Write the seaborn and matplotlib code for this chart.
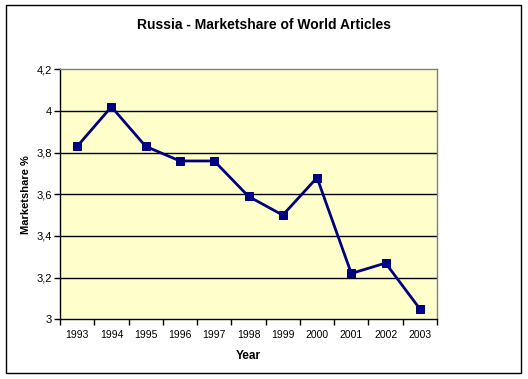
import numpy as np
import pandas as pd
import matplotlib
matplotlib.use("Agg")
import matplotlib.pyplot as plt
import seaborn as sns
from matplotlib.patches import Rectangle

years = ['1993', '1994', '1995', '1996', '1997', '1998', '1999', '2000', '2001', '2002', '2003']
share = [3.83, 4.02, 3.83, 3.76, 3.76, 3.59, 3.50, 3.68, 3.22, 3.27, 3.05]
yticks = [3.0, 3.2, 3.4, 3.6, 3.8, 4.0, 4.2]
ylabels = ['3', '3,2', '3,4', '3,6', '3,8', '4', '4,2']

df = pd.DataFrame({'pos': np.arange(len(years)), 'share': share})

sns.set_style('white', {'text.color': 'black', 'axes.labelcolor': 'black',
                        'xtick.color': 'black', 'ytick.color': 'black',
                        'xtick.bottom': True, 'ytick.left': True})
plt.rcParams['font.family'] = ['Liberation Sans', 'DejaVu Sans']

fig = plt.figure(figsize=(5.28, 3.79), dpi=100)
ax = fig.add_axes([60 / 528, 1 - 319.3 / 379, 377 / 528, 250 / 379])
ax.set_facecolor('#FFFFCC')

# gridlines
for v in yticks[1:-1]:
    ax.axhline(v, color='black', lw=1, zorder=1)

sns.lineplot(data=df, x='pos', y='share', ax=ax, color='#000080', lw=2,
             marker='s', markersize=6, markeredgecolor='#000080', zorder=3)

ax.set_xlim(-0.5, len(years) - 0.5)
ax.set_ylim(3.0, 4.2)
ax.set_yticks(yticks)
ax.set_yticklabels(ylabels, fontsize=8)
ax.set_xticks(df['pos'])
ax.set_xticklabels(years, fontsize=7.5)
ax.set_xticks(np.arange(len(years) + 1) - 0.5, minor=True)
ax.tick_params(axis='x', which='major', bottom=False, length=0, pad=8)
ax.tick_params(axis='x', which='minor', bottom=True, length=4, color='black', width=1, direction='out')
ax.tick_params(axis='y', left=True, length=4, color='black', width=1, direction='out', pad=2)

for side in ['left', 'bottom']:
    ax.spines[side].set_color('black')
    ax.spines[side].set_linewidth(1)
for side in ['top', 'right']:
    ax.spines[side].set_color('#808080')
    ax.spines[side].set_linewidth(1)

ax.set_xlabel('Year', fontsize=8.5, fontweight='bold', labelpad=7)
ax.set_ylabel('Marketshare %', fontsize=8, fontweight='bold')
ax.yaxis.set_label_coords(-29 / 377, 0.5)

fig.text(0.5, 1 - 25 / 379, 'Russia - Marketshare of World Articles', ha='center', va='center',
         fontsize=10, fontweight='bold')

# chart border
fig.patches.append(Rectangle((6 / 528, 1 - 373 / 379), 515 / 528, 368 / 379,
                             transform=fig.transFigure, fill=False, edgecolor='black', lw=1))

fig.savefig('out.png', dpi=100)
